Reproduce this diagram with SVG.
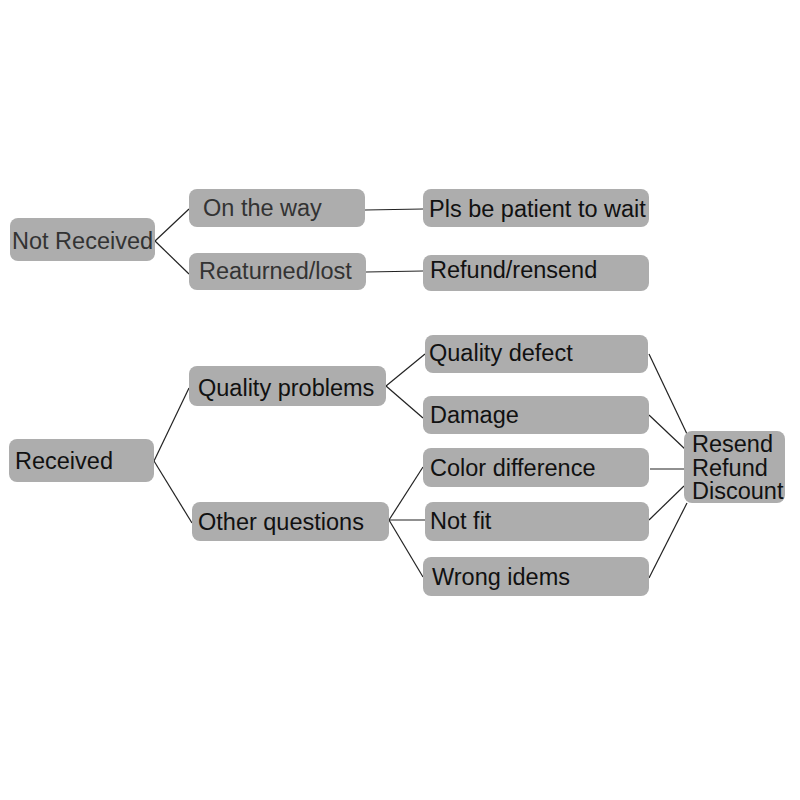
<svg xmlns="http://www.w3.org/2000/svg" width="800" height="800" viewBox="0 0 800 800">
<style>
.box{fill:#adadad}
.t{font-family:"Liberation Sans",Arial,sans-serif;font-size:23.5px;fill:#111}
.g{fill:#333}
.c line{stroke:#222;stroke-width:1.2}
</style>
<rect width="800" height="800" fill="#fff"/>
<g class="c" id="connectors">
<line x1="155" y1="241" x2="189" y2="209"/>
<line x1="155" y1="241" x2="189" y2="274"/>
<line x1="365" y1="210" x2="423" y2="209"/>
<line x1="366" y1="272" x2="423" y2="271"/>
<line x1="154" y1="461" x2="189" y2="388"/>
<line x1="154" y1="461" x2="192" y2="523"/>
<line x1="386" y1="386" x2="425" y2="354"/>
<line x1="386" y1="386" x2="423" y2="418"/>
<line x1="389" y1="520" x2="423" y2="467"/>
<line x1="389" y1="520" x2="425" y2="520"/>
<line x1="389" y1="520" x2="423" y2="577"/>
<line x1="649" y1="354" x2="687" y2="434"/>
<line x1="649" y1="415" x2="686" y2="450"/>
<line x1="650" y1="469" x2="684" y2="469"/>
<line x1="649" y1="520" x2="684" y2="486"/>
<line x1="649" y1="578" x2="687" y2="503"/>
</g>
<g id="not-received"><rect class="box" x="10" y="218" width="145" height="43" rx="8"/><text class="t g" x="12" y="249">Not Received</text></g>
<g id="on-the-way"><rect class="box" x="189" y="189" width="176" height="38" rx="8"/><text class="t g" x="203" y="216">On the way</text></g>
<g id="reaturned"><rect class="box" x="189" y="253" width="177" height="37" rx="8"/><text class="t g" x="199" y="279">Reaturned/lost</text></g>
<g id="patient"><rect class="box" x="423" y="189" width="226" height="38" rx="8"/><text class="t" x="429" y="217">Pls be patient to wait</text></g>
<g id="refund-resend"><rect class="box" x="423" y="255" width="226" height="36" rx="8"/><text class="t" x="430" y="278">Refund/rensend</text></g>
<g id="received"><rect class="box" x="9" y="439" width="145" height="43" rx="8"/><text class="t" x="15" y="469">Received</text></g>
<g id="quality-problems"><rect class="box" x="189" y="366" width="197" height="40" rx="8"/><text class="t" x="198" y="396">Quality problems</text></g>
<g id="other-questions"><rect class="box" x="192" y="502" width="197" height="39" rx="8"/><text class="t" x="198" y="530">Other questions</text></g>
<g id="quality-defect"><rect class="box" x="425" y="335" width="223" height="38" rx="8"/><text class="t" x="429" y="361">Quality defect</text></g>
<g id="damage"><rect class="box" x="423" y="396" width="226" height="38" rx="8"/><text class="t" x="430" y="423">Damage</text></g>
<g id="color-difference"><rect class="box" x="423" y="448" width="226" height="39" rx="8"/><text class="t" x="430" y="476">Color difference</text></g>
<g id="not-fit"><rect class="box" x="425" y="502" width="224" height="39" rx="8"/><text class="t" x="430" y="529">Not fit</text></g>
<g id="wrong-idems"><rect class="box" x="423" y="557" width="226" height="39" rx="8"/><text class="t" x="432" y="585">Wrong idems</text></g>
<g id="resend-refund-discount"><rect class="box" x="684" y="431" width="101" height="72" rx="8"/><text class="t" x="692" y="452">Resend</text><text class="t" x="692" y="476">Refund</text><text class="t" x="692" y="499">Discount</text></g>
</svg>
